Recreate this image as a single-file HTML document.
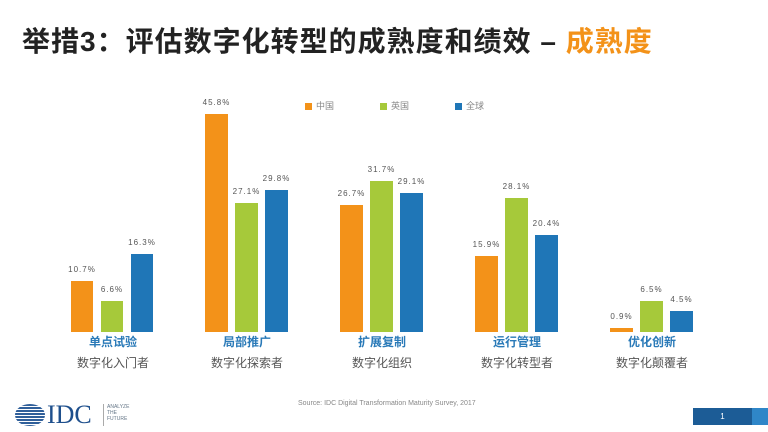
<!DOCTYPE html>
<html><head><meta charset="utf-8"><style>
body{margin:0;width:768px;height:432px;background:#fff;position:relative;overflow:hidden;font-family:"Liberation Sans","Noto Sans CJK SC",sans-serif}
.t{position:absolute;left:22px;top:20px;font-size:28px;font-weight:bold;color:#222;white-space:nowrap;letter-spacing:1px}
.b{position:absolute}
.v{position:absolute;font-size:8px;color:#555;width:40px;text-align:center;letter-spacing:1px}
.c1{position:absolute;top:333px;font-size:12px;font-weight:bold;color:#2a7ab8;width:120px;text-align:center}
.c2{position:absolute;top:354px;font-size:12px;color:#555;width:120px;text-align:center}
.lg{position:absolute;top:99px;font-size:9px;color:#888}
.lg i{display:inline-block;width:7px;height:7px;margin-right:4px;vertical-align:-1px}
</style></head><body>
<div class="t">举措3：评估数字化转型的成熟度和绩效 – <span style="color:#f39219">成熟度</span></div>
<div class="lg" style="left:305px"><i style="background:#f39219"></i>中国</div>
<div class="lg" style="left:380px"><i style="background:#a6c93a"></i>英国</div>
<div class="lg" style="left:455px"><i style="background:#1f76b7"></i>全球</div>
<div id="ch"></div>
<div style="position:absolute;left:15px;top:404px;width:30px;height:22px;border-radius:50%;background:repeating-linear-gradient(#2f5f9a 0 2px,#fff 2px 3px)"></div>
<div style="position:absolute;left:47px;top:400px;font-size:26px;font-family:'Liberation Serif',serif;color:#1e4f8c">IDC</div>
<div style="position:absolute;left:103px;top:404px;width:1px;height:22px;background:#aaa"></div>
<div style="position:absolute;left:107px;top:404px;font-size:5px;color:#678;line-height:6px">ANALYZE<br>THE<br>FUTURE</div>
<div style="position:absolute;left:298px;top:400px;font-size:7px;color:#888">Source: IDC Digital Transformation Maturity Survey, 2017</div>
<div style="position:absolute;left:693px;top:408px;width:59px;height:17px;background:#1c5c96;color:#fff;font-size:8px;text-align:center;line-height:17px">1</div>
<div style="position:absolute;left:752px;top:408px;width:16px;height:17px;background:#2f86c8"></div>
<script>
var d=[[10.7,6.6,16.3,"单点试验","数字化入门者"],[45.8,27.1,29.8,"局部推广","数字化探索者"],[26.7,31.7,29.1,"扩展复制","数字化组织"],[15.9,28.1,20.4,"运行管理","数字化转型者"],[0.9,6.5,4.5,"优化创新","数字化颠覆者"]];
var cols=["#f39219","#a6c93a","#1f76b7"],xs=[71,205,340,475,610],h="",base=332,k=4.76;
d.forEach(function(g,i){for(var j=0;j<3;j++){var x=xs[i]+j*30,hh=g[j]*k,w=i==0?22:23;
h+='<div class="b" style="left:'+x+'px;top:'+(base-hh)+'px;width:'+w+'px;height:'+hh+'px;background:'+cols[j]+'"></div>';
h+='<div class="v" style="left:'+(x+w/2-20)+'px;top:'+(base-hh-16)+'px">'+g[j].toFixed(1)+'%</div>';}
h+='<div class="c1" style="left:'+(xs[i]+42-60)+'px">'+g[3]+'</div><div class="c2" style="left:'+(xs[i]+42-60)+'px">'+g[4]+'</div>';});
document.getElementById("ch").innerHTML=h;
</script>
</body></html>
